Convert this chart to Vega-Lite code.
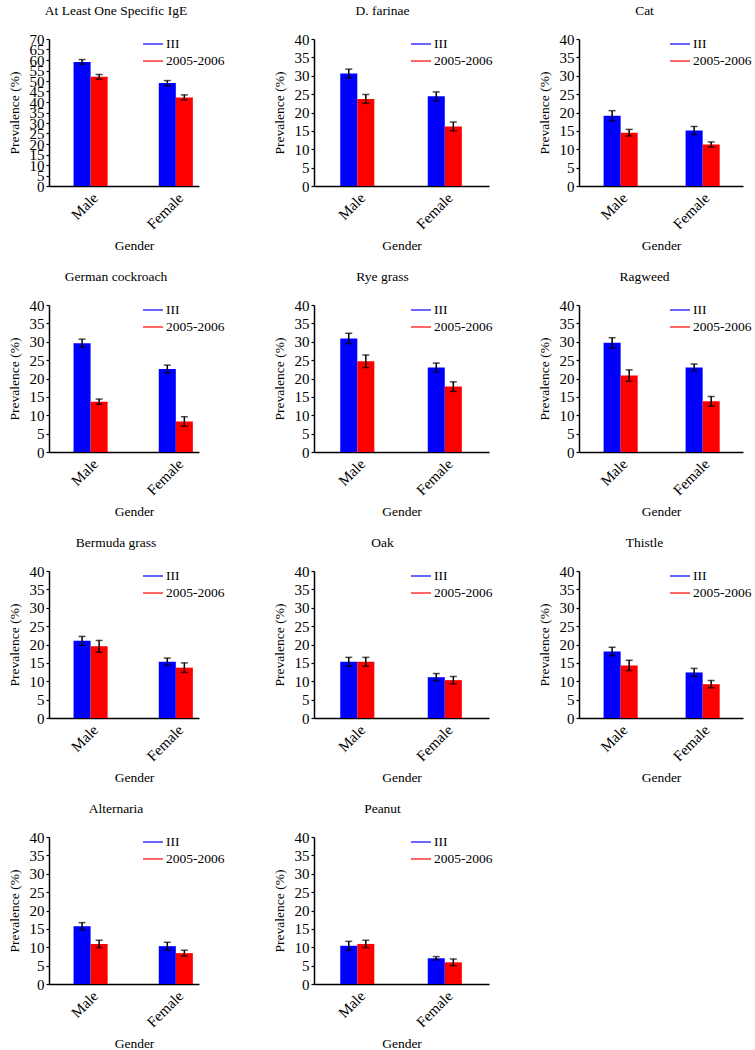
{
  "$schema": "https://vega.github.io/schema/vega-lite/v6.json",
  "background": "white",
  "padding": {"left": 7, "top": 3, "right": 0, "bottom": 0},
  "data": {"values": [
    {"panel": "At Least One Specific IgE", "gender": "Male", "series": "III", "value": 59.1, "lo": 58.0, "hi": 60.2},
    {"panel": "At Least One Specific IgE", "gender": "Male", "series": "2005-2006", "value": 52.0, "lo": 50.9, "hi": 53.1},
    {"panel": "At Least One Specific IgE", "gender": "Female", "series": "III", "value": 49.0, "lo": 47.8, "hi": 50.2},
    {"panel": "At Least One Specific IgE", "gender": "Female", "series": "2005-2006", "value": 42.2, "lo": 41.0, "hi": 43.4},
    {"panel": "D. farinae", "gender": "Male", "series": "III", "value": 30.6, "lo": 29.4, "hi": 31.8},
    {"panel": "D. farinae", "gender": "Male", "series": "2005-2006", "value": 23.7, "lo": 22.5, "hi": 24.9},
    {"panel": "D. farinae", "gender": "Female", "series": "III", "value": 24.4, "lo": 23.2, "hi": 25.6},
    {"panel": "D. farinae", "gender": "Female", "series": "2005-2006", "value": 16.2, "lo": 15.0, "hi": 17.4},
    {"panel": "Cat", "gender": "Male", "series": "III", "value": 19.1, "lo": 17.7, "hi": 20.5},
    {"panel": "Cat", "gender": "Male", "series": "2005-2006", "value": 14.5, "lo": 13.6, "hi": 15.4},
    {"panel": "Cat", "gender": "Female", "series": "III", "value": 15.1, "lo": 14.0, "hi": 16.2},
    {"panel": "Cat", "gender": "Female", "series": "2005-2006", "value": 11.3, "lo": 10.6, "hi": 12.0},
    {"panel": "German cockroach", "gender": "Male", "series": "III", "value": 29.6, "lo": 28.5, "hi": 30.7},
    {"panel": "German cockroach", "gender": "Male", "series": "2005-2006", "value": 13.7, "lo": 13.0, "hi": 14.4},
    {"panel": "German cockroach", "gender": "Female", "series": "III", "value": 22.6, "lo": 21.55, "hi": 23.65},
    {"panel": "German cockroach", "gender": "Female", "series": "2005-2006", "value": 8.3, "lo": 7.0, "hi": 9.6},
    {"panel": "Rye grass", "gender": "Male", "series": "III", "value": 30.9, "lo": 29.5, "hi": 32.3},
    {"panel": "Rye grass", "gender": "Male", "series": "2005-2006", "value": 24.7, "lo": 23.0, "hi": 26.4},
    {"panel": "Rye grass", "gender": "Female", "series": "III", "value": 23.0, "lo": 21.8, "hi": 24.2},
    {"panel": "Rye grass", "gender": "Female", "series": "2005-2006", "value": 17.8, "lo": 16.5, "hi": 19.1},
    {"panel": "Ragweed", "gender": "Male", "series": "III", "value": 29.7, "lo": 28.3, "hi": 31.1},
    {"panel": "Ragweed", "gender": "Male", "series": "2005-2006", "value": 20.8, "lo": 19.25, "hi": 22.35},
    {"panel": "Ragweed", "gender": "Female", "series": "III", "value": 23.0, "lo": 22.05, "hi": 23.95},
    {"panel": "Ragweed", "gender": "Female", "series": "2005-2006", "value": 13.8, "lo": 12.5, "hi": 15.1},
    {"panel": "Bermuda grass", "gender": "Male", "series": "III", "value": 21.0, "lo": 19.8, "hi": 22.2},
    {"panel": "Bermuda grass", "gender": "Male", "series": "2005-2006", "value": 19.5, "lo": 17.9, "hi": 21.1},
    {"panel": "Bermuda grass", "gender": "Female", "series": "III", "value": 15.3, "lo": 14.3, "hi": 16.3},
    {"panel": "Bermuda grass", "gender": "Female", "series": "2005-2006", "value": 13.7, "lo": 12.4, "hi": 15.0},
    {"panel": "Oak", "gender": "Male", "series": "III", "value": 15.3, "lo": 14.1, "hi": 16.5},
    {"panel": "Oak", "gender": "Male", "series": "2005-2006", "value": 15.3, "lo": 14.1, "hi": 16.5},
    {"panel": "Oak", "gender": "Female", "series": "III", "value": 11.1, "lo": 10.1, "hi": 12.1},
    {"panel": "Oak", "gender": "Female", "series": "2005-2006", "value": 10.3, "lo": 9.3, "hi": 11.3},
    {"panel": "Thistle", "gender": "Male", "series": "III", "value": 18.1, "lo": 16.95, "hi": 19.25},
    {"panel": "Thistle", "gender": "Male", "series": "2005-2006", "value": 14.3, "lo": 12.9, "hi": 15.7},
    {"panel": "Thistle", "gender": "Female", "series": "III", "value": 12.4, "lo": 11.3, "hi": 13.5},
    {"panel": "Thistle", "gender": "Female", "series": "2005-2006", "value": 9.2, "lo": 8.2, "hi": 10.2},
    {"panel": "Alternaria", "gender": "Male", "series": "III", "value": 15.7, "lo": 14.7, "hi": 16.7},
    {"panel": "Alternaria", "gender": "Male", "series": "2005-2006", "value": 10.9, "lo": 9.9, "hi": 11.9},
    {"panel": "Alternaria", "gender": "Female", "series": "III", "value": 10.3, "lo": 9.25, "hi": 11.35},
    {"panel": "Alternaria", "gender": "Female", "series": "2005-2006", "value": 8.4, "lo": 7.6, "hi": 9.2},
    {"panel": "Peanut", "gender": "Male", "series": "III", "value": 10.4, "lo": 9.2, "hi": 11.6},
    {"panel": "Peanut", "gender": "Male", "series": "2005-2006", "value": 10.9, "lo": 9.9, "hi": 11.9},
    {"panel": "Peanut", "gender": "Female", "series": "III", "value": 7.0, "lo": 6.55, "hi": 7.45},
    {"panel": "Peanut", "gender": "Female", "series": "2005-2006", "value": 5.9, "lo": 5.0, "hi": 6.8}
  ]},
  "columns": 3,
  "align": "all",
  "spacing": {"row": 119, "column": 90},
  "bounds": "flush",
  "resolve": {"scale": {"fill": "independent"}},
  "concat": [
    {
      "title": "At Least One Specific IgE", "width": 150, "height": 147,
      "transform": [{"filter": "datum.panel === 'At Least One Specific IgE'"}],
      "encoding": {
        "x": {"field": "gender", "type": "nominal", "sort": ["Male", "Female"], "title": "Gender", "axis": {"titleX": 85}, "scale": {"paddingInner": 0.6, "paddingOuter": 0.18, "align": 0.8}},
        "xOffset": {"field": "series", "type": "nominal", "sort": ["III", "2005-2006"], "scale": {"paddingInner": 0, "paddingOuter": 0}}
      },
      "layer": [
        {"mark": "bar", "encoding": {
          "y": {"field": "value", "type": "quantitative", "title": "Prevalence (%)", "scale": {"domain": [0, 70]}, "axis": {"values": [0, 5, 10, 15, 20, 25, 30, 35, 40, 45, 50, 55, 60, 65, 70], "labelOverlap": false}},
          "fill": {"field": "series", "type": "nominal", "sort": ["III", "2005-2006"], "scale": {"domain": ["III", "2005-2006"], "range": ["#0000ff", "#ff0000"]}, "legend": {"title": null, "legendX": 94, "legendY": -5}}
        }},
        {"mark": {"type": "rule", "color": "black", "strokeWidth": 1.5}, "encoding": {"y": {"field": "lo", "type": "quantitative", "title": "Prevalence (%)", "scale": {"domain": [0, 70]}, "axis": {"values": [0, 5, 10, 15, 20, 25, 30, 35, 40, 45, 50, 55, 60, 65, 70], "labelOverlap": false}}, "y2": {"field": "hi"}}},
        {"mark": {"type": "tick", "color": "black", "size": 7, "thickness": 1.5, "orient": "horizontal"}, "encoding": {"y": {"field": "lo", "type": "quantitative", "title": "Prevalence (%)", "scale": {"domain": [0, 70]}, "axis": {"values": [0, 5, 10, 15, 20, 25, 30, 35, 40, 45, 50, 55, 60, 65, 70], "labelOverlap": false}}}},
        {"mark": {"type": "tick", "color": "black", "size": 7, "thickness": 1.5, "orient": "horizontal"}, "encoding": {"y": {"field": "hi", "type": "quantitative", "title": "Prevalence (%)", "scale": {"domain": [0, 70]}, "axis": {"values": [0, 5, 10, 15, 20, 25, 30, 35, 40, 45, 50, 55, 60, 65, 70], "labelOverlap": false}}}}
      ]
    },
    {
      "title": "D. farinae", "width": 175, "height": 147,
      "transform": [{"filter": "datum.panel === 'D. farinae'"}],
      "encoding": {
        "x": {"field": "gender", "type": "nominal", "sort": ["Male", "Female"], "title": "Gender", "scale": {"paddingInner": 0.6, "paddingOuter": 0.3}},
        "xOffset": {"field": "series", "type": "nominal", "sort": ["III", "2005-2006"], "scale": {"paddingInner": 0, "paddingOuter": 0}}
      },
      "layer": [
        {"mark": "bar", "encoding": {
          "y": {"field": "value", "type": "quantitative", "title": "Prevalence (%)", "scale": {"domain": [0, 40]}, "axis": {"values": [0, 5, 10, 15, 20, 25, 30, 35, 40], "labelOverlap": false}},
          "fill": {"field": "series", "type": "nominal", "sort": ["III", "2005-2006"], "scale": {"domain": ["III", "2005-2006"], "range": ["#0000ff", "#ff0000"]}, "legend": {"title": null, "legendX": 97, "legendY": -5}}
        }},
        {"mark": {"type": "rule", "color": "black", "strokeWidth": 1.5}, "encoding": {"y": {"field": "lo", "type": "quantitative", "title": "Prevalence (%)", "scale": {"domain": [0, 40]}, "axis": {"values": [0, 5, 10, 15, 20, 25, 30, 35, 40], "labelOverlap": false}}, "y2": {"field": "hi"}}},
        {"mark": {"type": "tick", "color": "black", "size": 7, "thickness": 1.5, "orient": "horizontal"}, "encoding": {"y": {"field": "lo", "type": "quantitative", "title": "Prevalence (%)", "scale": {"domain": [0, 40]}, "axis": {"values": [0, 5, 10, 15, 20, 25, 30, 35, 40], "labelOverlap": false}}}},
        {"mark": {"type": "tick", "color": "black", "size": 7, "thickness": 1.5, "orient": "horizontal"}, "encoding": {"y": {"field": "hi", "type": "quantitative", "title": "Prevalence (%)", "scale": {"domain": [0, 40]}, "axis": {"values": [0, 5, 10, 15, 20, 25, 30, 35, 40], "labelOverlap": false}}}}
      ]
    },
    {
      "title": "Cat", "width": 164, "height": 147,
      "transform": [{"filter": "datum.panel === 'Cat'"}],
      "encoding": {
        "x": {"field": "gender", "type": "nominal", "sort": ["Male", "Female"], "title": "Gender", "scale": {"paddingInner": 0.6, "paddingOuter": 0.3}},
        "xOffset": {"field": "series", "type": "nominal", "sort": ["III", "2005-2006"], "scale": {"paddingInner": 0, "paddingOuter": 0}}
      },
      "layer": [
        {"mark": "bar", "encoding": {
          "y": {"field": "value", "type": "quantitative", "title": "Prevalence (%)", "scale": {"domain": [0, 40]}, "axis": {"values": [0, 5, 10, 15, 20, 25, 30, 35, 40], "labelOverlap": false}},
          "fill": {"field": "series", "type": "nominal", "sort": ["III", "2005-2006"], "scale": {"domain": ["III", "2005-2006"], "range": ["#0000ff", "#ff0000"]}, "legend": {"title": null, "legendX": 91, "legendY": -5}}
        }},
        {"mark": {"type": "rule", "color": "black", "strokeWidth": 1.5}, "encoding": {"y": {"field": "lo", "type": "quantitative", "title": "Prevalence (%)", "scale": {"domain": [0, 40]}, "axis": {"values": [0, 5, 10, 15, 20, 25, 30, 35, 40], "labelOverlap": false}}, "y2": {"field": "hi"}}},
        {"mark": {"type": "tick", "color": "black", "size": 7, "thickness": 1.5, "orient": "horizontal"}, "encoding": {"y": {"field": "lo", "type": "quantitative", "title": "Prevalence (%)", "scale": {"domain": [0, 40]}, "axis": {"values": [0, 5, 10, 15, 20, 25, 30, 35, 40], "labelOverlap": false}}}},
        {"mark": {"type": "tick", "color": "black", "size": 7, "thickness": 1.5, "orient": "horizontal"}, "encoding": {"y": {"field": "hi", "type": "quantitative", "title": "Prevalence (%)", "scale": {"domain": [0, 40]}, "axis": {"values": [0, 5, 10, 15, 20, 25, 30, 35, 40], "labelOverlap": false}}}}
      ]
    },
    {
      "title": "German cockroach", "width": 150, "height": 147,
      "transform": [{"filter": "datum.panel === 'German cockroach'"}],
      "encoding": {
        "x": {"field": "gender", "type": "nominal", "sort": ["Male", "Female"], "title": "Gender", "axis": {"titleX": 85}, "scale": {"paddingInner": 0.6, "paddingOuter": 0.18, "align": 0.8}},
        "xOffset": {"field": "series", "type": "nominal", "sort": ["III", "2005-2006"], "scale": {"paddingInner": 0, "paddingOuter": 0}}
      },
      "layer": [
        {"mark": "bar", "encoding": {
          "y": {"field": "value", "type": "quantitative", "title": "Prevalence (%)", "scale": {"domain": [0, 40]}, "axis": {"values": [0, 5, 10, 15, 20, 25, 30, 35, 40], "labelOverlap": false}},
          "fill": {"field": "series", "type": "nominal", "sort": ["III", "2005-2006"], "scale": {"domain": ["III", "2005-2006"], "range": ["#0000ff", "#ff0000"]}, "legend": {"title": null, "legendX": 94, "legendY": -5}}
        }},
        {"mark": {"type": "rule", "color": "black", "strokeWidth": 1.5}, "encoding": {"y": {"field": "lo", "type": "quantitative", "title": "Prevalence (%)", "scale": {"domain": [0, 40]}, "axis": {"values": [0, 5, 10, 15, 20, 25, 30, 35, 40], "labelOverlap": false}}, "y2": {"field": "hi"}}},
        {"mark": {"type": "tick", "color": "black", "size": 7, "thickness": 1.5, "orient": "horizontal"}, "encoding": {"y": {"field": "lo", "type": "quantitative", "title": "Prevalence (%)", "scale": {"domain": [0, 40]}, "axis": {"values": [0, 5, 10, 15, 20, 25, 30, 35, 40], "labelOverlap": false}}}},
        {"mark": {"type": "tick", "color": "black", "size": 7, "thickness": 1.5, "orient": "horizontal"}, "encoding": {"y": {"field": "hi", "type": "quantitative", "title": "Prevalence (%)", "scale": {"domain": [0, 40]}, "axis": {"values": [0, 5, 10, 15, 20, 25, 30, 35, 40], "labelOverlap": false}}}}
      ]
    },
    {
      "title": "Rye grass", "width": 175, "height": 147,
      "transform": [{"filter": "datum.panel === 'Rye grass'"}],
      "encoding": {
        "x": {"field": "gender", "type": "nominal", "sort": ["Male", "Female"], "title": "Gender", "scale": {"paddingInner": 0.6, "paddingOuter": 0.3}},
        "xOffset": {"field": "series", "type": "nominal", "sort": ["III", "2005-2006"], "scale": {"paddingInner": 0, "paddingOuter": 0}}
      },
      "layer": [
        {"mark": "bar", "encoding": {
          "y": {"field": "value", "type": "quantitative", "title": "Prevalence (%)", "scale": {"domain": [0, 40]}, "axis": {"values": [0, 5, 10, 15, 20, 25, 30, 35, 40], "labelOverlap": false}},
          "fill": {"field": "series", "type": "nominal", "sort": ["III", "2005-2006"], "scale": {"domain": ["III", "2005-2006"], "range": ["#0000ff", "#ff0000"]}, "legend": {"title": null, "legendX": 97, "legendY": -5}}
        }},
        {"mark": {"type": "rule", "color": "black", "strokeWidth": 1.5}, "encoding": {"y": {"field": "lo", "type": "quantitative", "title": "Prevalence (%)", "scale": {"domain": [0, 40]}, "axis": {"values": [0, 5, 10, 15, 20, 25, 30, 35, 40], "labelOverlap": false}}, "y2": {"field": "hi"}}},
        {"mark": {"type": "tick", "color": "black", "size": 7, "thickness": 1.5, "orient": "horizontal"}, "encoding": {"y": {"field": "lo", "type": "quantitative", "title": "Prevalence (%)", "scale": {"domain": [0, 40]}, "axis": {"values": [0, 5, 10, 15, 20, 25, 30, 35, 40], "labelOverlap": false}}}},
        {"mark": {"type": "tick", "color": "black", "size": 7, "thickness": 1.5, "orient": "horizontal"}, "encoding": {"y": {"field": "hi", "type": "quantitative", "title": "Prevalence (%)", "scale": {"domain": [0, 40]}, "axis": {"values": [0, 5, 10, 15, 20, 25, 30, 35, 40], "labelOverlap": false}}}}
      ]
    },
    {
      "title": "Ragweed", "width": 164, "height": 147,
      "transform": [{"filter": "datum.panel === 'Ragweed'"}],
      "encoding": {
        "x": {"field": "gender", "type": "nominal", "sort": ["Male", "Female"], "title": "Gender", "scale": {"paddingInner": 0.6, "paddingOuter": 0.3}},
        "xOffset": {"field": "series", "type": "nominal", "sort": ["III", "2005-2006"], "scale": {"paddingInner": 0, "paddingOuter": 0}}
      },
      "layer": [
        {"mark": "bar", "encoding": {
          "y": {"field": "value", "type": "quantitative", "title": "Prevalence (%)", "scale": {"domain": [0, 40]}, "axis": {"values": [0, 5, 10, 15, 20, 25, 30, 35, 40], "labelOverlap": false}},
          "fill": {"field": "series", "type": "nominal", "sort": ["III", "2005-2006"], "scale": {"domain": ["III", "2005-2006"], "range": ["#0000ff", "#ff0000"]}, "legend": {"title": null, "legendX": 91, "legendY": -5}}
        }},
        {"mark": {"type": "rule", "color": "black", "strokeWidth": 1.5}, "encoding": {"y": {"field": "lo", "type": "quantitative", "title": "Prevalence (%)", "scale": {"domain": [0, 40]}, "axis": {"values": [0, 5, 10, 15, 20, 25, 30, 35, 40], "labelOverlap": false}}, "y2": {"field": "hi"}}},
        {"mark": {"type": "tick", "color": "black", "size": 7, "thickness": 1.5, "orient": "horizontal"}, "encoding": {"y": {"field": "lo", "type": "quantitative", "title": "Prevalence (%)", "scale": {"domain": [0, 40]}, "axis": {"values": [0, 5, 10, 15, 20, 25, 30, 35, 40], "labelOverlap": false}}}},
        {"mark": {"type": "tick", "color": "black", "size": 7, "thickness": 1.5, "orient": "horizontal"}, "encoding": {"y": {"field": "hi", "type": "quantitative", "title": "Prevalence (%)", "scale": {"domain": [0, 40]}, "axis": {"values": [0, 5, 10, 15, 20, 25, 30, 35, 40], "labelOverlap": false}}}}
      ]
    },
    {
      "title": "Bermuda grass", "width": 150, "height": 147,
      "transform": [{"filter": "datum.panel === 'Bermuda grass'"}],
      "encoding": {
        "x": {"field": "gender", "type": "nominal", "sort": ["Male", "Female"], "title": "Gender", "axis": {"titleX": 85}, "scale": {"paddingInner": 0.6, "paddingOuter": 0.18, "align": 0.8}},
        "xOffset": {"field": "series", "type": "nominal", "sort": ["III", "2005-2006"], "scale": {"paddingInner": 0, "paddingOuter": 0}}
      },
      "layer": [
        {"mark": "bar", "encoding": {
          "y": {"field": "value", "type": "quantitative", "title": "Prevalence (%)", "scale": {"domain": [0, 40]}, "axis": {"values": [0, 5, 10, 15, 20, 25, 30, 35, 40], "labelOverlap": false}},
          "fill": {"field": "series", "type": "nominal", "sort": ["III", "2005-2006"], "scale": {"domain": ["III", "2005-2006"], "range": ["#0000ff", "#ff0000"]}, "legend": {"title": null, "legendX": 94, "legendY": -5}}
        }},
        {"mark": {"type": "rule", "color": "black", "strokeWidth": 1.5}, "encoding": {"y": {"field": "lo", "type": "quantitative", "title": "Prevalence (%)", "scale": {"domain": [0, 40]}, "axis": {"values": [0, 5, 10, 15, 20, 25, 30, 35, 40], "labelOverlap": false}}, "y2": {"field": "hi"}}},
        {"mark": {"type": "tick", "color": "black", "size": 7, "thickness": 1.5, "orient": "horizontal"}, "encoding": {"y": {"field": "lo", "type": "quantitative", "title": "Prevalence (%)", "scale": {"domain": [0, 40]}, "axis": {"values": [0, 5, 10, 15, 20, 25, 30, 35, 40], "labelOverlap": false}}}},
        {"mark": {"type": "tick", "color": "black", "size": 7, "thickness": 1.5, "orient": "horizontal"}, "encoding": {"y": {"field": "hi", "type": "quantitative", "title": "Prevalence (%)", "scale": {"domain": [0, 40]}, "axis": {"values": [0, 5, 10, 15, 20, 25, 30, 35, 40], "labelOverlap": false}}}}
      ]
    },
    {
      "title": "Oak", "width": 175, "height": 147,
      "transform": [{"filter": "datum.panel === 'Oak'"}],
      "encoding": {
        "x": {"field": "gender", "type": "nominal", "sort": ["Male", "Female"], "title": "Gender", "scale": {"paddingInner": 0.6, "paddingOuter": 0.3}},
        "xOffset": {"field": "series", "type": "nominal", "sort": ["III", "2005-2006"], "scale": {"paddingInner": 0, "paddingOuter": 0}}
      },
      "layer": [
        {"mark": "bar", "encoding": {
          "y": {"field": "value", "type": "quantitative", "title": "Prevalence (%)", "scale": {"domain": [0, 40]}, "axis": {"values": [0, 5, 10, 15, 20, 25, 30, 35, 40], "labelOverlap": false}},
          "fill": {"field": "series", "type": "nominal", "sort": ["III", "2005-2006"], "scale": {"domain": ["III", "2005-2006"], "range": ["#0000ff", "#ff0000"]}, "legend": {"title": null, "legendX": 97, "legendY": -5}}
        }},
        {"mark": {"type": "rule", "color": "black", "strokeWidth": 1.5}, "encoding": {"y": {"field": "lo", "type": "quantitative", "title": "Prevalence (%)", "scale": {"domain": [0, 40]}, "axis": {"values": [0, 5, 10, 15, 20, 25, 30, 35, 40], "labelOverlap": false}}, "y2": {"field": "hi"}}},
        {"mark": {"type": "tick", "color": "black", "size": 7, "thickness": 1.5, "orient": "horizontal"}, "encoding": {"y": {"field": "lo", "type": "quantitative", "title": "Prevalence (%)", "scale": {"domain": [0, 40]}, "axis": {"values": [0, 5, 10, 15, 20, 25, 30, 35, 40], "labelOverlap": false}}}},
        {"mark": {"type": "tick", "color": "black", "size": 7, "thickness": 1.5, "orient": "horizontal"}, "encoding": {"y": {"field": "hi", "type": "quantitative", "title": "Prevalence (%)", "scale": {"domain": [0, 40]}, "axis": {"values": [0, 5, 10, 15, 20, 25, 30, 35, 40], "labelOverlap": false}}}}
      ]
    },
    {
      "title": "Thistle", "width": 164, "height": 147,
      "transform": [{"filter": "datum.panel === 'Thistle'"}],
      "encoding": {
        "x": {"field": "gender", "type": "nominal", "sort": ["Male", "Female"], "title": "Gender", "scale": {"paddingInner": 0.6, "paddingOuter": 0.3}},
        "xOffset": {"field": "series", "type": "nominal", "sort": ["III", "2005-2006"], "scale": {"paddingInner": 0, "paddingOuter": 0}}
      },
      "layer": [
        {"mark": "bar", "encoding": {
          "y": {"field": "value", "type": "quantitative", "title": "Prevalence (%)", "scale": {"domain": [0, 40]}, "axis": {"values": [0, 5, 10, 15, 20, 25, 30, 35, 40], "labelOverlap": false}},
          "fill": {"field": "series", "type": "nominal", "sort": ["III", "2005-2006"], "scale": {"domain": ["III", "2005-2006"], "range": ["#0000ff", "#ff0000"]}, "legend": {"title": null, "legendX": 91, "legendY": -5}}
        }},
        {"mark": {"type": "rule", "color": "black", "strokeWidth": 1.5}, "encoding": {"y": {"field": "lo", "type": "quantitative", "title": "Prevalence (%)", "scale": {"domain": [0, 40]}, "axis": {"values": [0, 5, 10, 15, 20, 25, 30, 35, 40], "labelOverlap": false}}, "y2": {"field": "hi"}}},
        {"mark": {"type": "tick", "color": "black", "size": 7, "thickness": 1.5, "orient": "horizontal"}, "encoding": {"y": {"field": "lo", "type": "quantitative", "title": "Prevalence (%)", "scale": {"domain": [0, 40]}, "axis": {"values": [0, 5, 10, 15, 20, 25, 30, 35, 40], "labelOverlap": false}}}},
        {"mark": {"type": "tick", "color": "black", "size": 7, "thickness": 1.5, "orient": "horizontal"}, "encoding": {"y": {"field": "hi", "type": "quantitative", "title": "Prevalence (%)", "scale": {"domain": [0, 40]}, "axis": {"values": [0, 5, 10, 15, 20, 25, 30, 35, 40], "labelOverlap": false}}}}
      ]
    },
    {
      "title": "Alternaria", "width": 150, "height": 147,
      "transform": [{"filter": "datum.panel === 'Alternaria'"}],
      "encoding": {
        "x": {"field": "gender", "type": "nominal", "sort": ["Male", "Female"], "title": "Gender", "axis": {"titleX": 85}, "scale": {"paddingInner": 0.6, "paddingOuter": 0.18, "align": 0.8}},
        "xOffset": {"field": "series", "type": "nominal", "sort": ["III", "2005-2006"], "scale": {"paddingInner": 0, "paddingOuter": 0}}
      },
      "layer": [
        {"mark": "bar", "encoding": {
          "y": {"field": "value", "type": "quantitative", "title": "Prevalence (%)", "scale": {"domain": [0, 40]}, "axis": {"values": [0, 5, 10, 15, 20, 25, 30, 35, 40], "labelOverlap": false}},
          "fill": {"field": "series", "type": "nominal", "sort": ["III", "2005-2006"], "scale": {"domain": ["III", "2005-2006"], "range": ["#0000ff", "#ff0000"]}, "legend": {"title": null, "legendX": 94, "legendY": -5}}
        }},
        {"mark": {"type": "rule", "color": "black", "strokeWidth": 1.5}, "encoding": {"y": {"field": "lo", "type": "quantitative", "title": "Prevalence (%)", "scale": {"domain": [0, 40]}, "axis": {"values": [0, 5, 10, 15, 20, 25, 30, 35, 40], "labelOverlap": false}}, "y2": {"field": "hi"}}},
        {"mark": {"type": "tick", "color": "black", "size": 7, "thickness": 1.5, "orient": "horizontal"}, "encoding": {"y": {"field": "lo", "type": "quantitative", "title": "Prevalence (%)", "scale": {"domain": [0, 40]}, "axis": {"values": [0, 5, 10, 15, 20, 25, 30, 35, 40], "labelOverlap": false}}}},
        {"mark": {"type": "tick", "color": "black", "size": 7, "thickness": 1.5, "orient": "horizontal"}, "encoding": {"y": {"field": "hi", "type": "quantitative", "title": "Prevalence (%)", "scale": {"domain": [0, 40]}, "axis": {"values": [0, 5, 10, 15, 20, 25, 30, 35, 40], "labelOverlap": false}}}}
      ]
    },
    {
      "title": "Peanut", "width": 175, "height": 147,
      "transform": [{"filter": "datum.panel === 'Peanut'"}],
      "encoding": {
        "x": {"field": "gender", "type": "nominal", "sort": ["Male", "Female"], "title": "Gender", "scale": {"paddingInner": 0.6, "paddingOuter": 0.3}},
        "xOffset": {"field": "series", "type": "nominal", "sort": ["III", "2005-2006"], "scale": {"paddingInner": 0, "paddingOuter": 0}}
      },
      "layer": [
        {"mark": "bar", "encoding": {
          "y": {"field": "value", "type": "quantitative", "title": "Prevalence (%)", "scale": {"domain": [0, 40]}, "axis": {"values": [0, 5, 10, 15, 20, 25, 30, 35, 40], "labelOverlap": false}},
          "fill": {"field": "series", "type": "nominal", "sort": ["III", "2005-2006"], "scale": {"domain": ["III", "2005-2006"], "range": ["#0000ff", "#ff0000"]}, "legend": {"title": null, "legendX": 97, "legendY": -5}}
        }},
        {"mark": {"type": "rule", "color": "black", "strokeWidth": 1.5}, "encoding": {"y": {"field": "lo", "type": "quantitative", "title": "Prevalence (%)", "scale": {"domain": [0, 40]}, "axis": {"values": [0, 5, 10, 15, 20, 25, 30, 35, 40], "labelOverlap": false}}, "y2": {"field": "hi"}}},
        {"mark": {"type": "tick", "color": "black", "size": 7, "thickness": 1.5, "orient": "horizontal"}, "encoding": {"y": {"field": "lo", "type": "quantitative", "title": "Prevalence (%)", "scale": {"domain": [0, 40]}, "axis": {"values": [0, 5, 10, 15, 20, 25, 30, 35, 40], "labelOverlap": false}}}},
        {"mark": {"type": "tick", "color": "black", "size": 7, "thickness": 1.5, "orient": "horizontal"}, "encoding": {"y": {"field": "hi", "type": "quantitative", "title": "Prevalence (%)", "scale": {"domain": [0, 40]}, "axis": {"values": [0, 5, 10, 15, 20, 25, 30, 35, 40], "labelOverlap": false}}}}
      ]
    }
  ],
  "config": {
    "view": {"stroke": null},
    "font": "Liberation Serif",
    "style": {"guide-label": {"font": "Liberation Serif"}, "guide-title": {"font": "Liberation Serif"}, "group-title": {"font": "Liberation Serif"}},
    "title": {"font": "Liberation Serif", "fontSize": 13.5, "fontWeight": "normal", "color": "black", "anchor": "middle", "frame": "bounds", "offset": 15},
    "axis": {"grid": false, "domainColor": "black", "domainWidth": 1.5, "tickColor": "black", "tickWidth": 1.2, "labelColor": "black", "titleColor": "black", "labelFont": "Liberation Serif", "titleFont": "Liberation Serif", "labelFontSize": 15, "titleFontSize": 13.5, "titleFontWeight": "normal", "labelOverlap": false},
    "axisX": {"ticks": false, "labelAngle": -45, "labelPadding": 4, "titlePadding": 7, "labelFont": "Liberation Serif", "titleFont": "Liberation Serif"},
    "axisY": {"tickSize": 3, "labelPadding": 2, "titlePadding": 8, "labelFont": "Liberation Serif", "titleFont": "Liberation Serif"},
    "legend": {"orient": "none", "symbolType": "M-1,-0.06H1V0.06H-1Z", "symbolSize": 400, "symbolStrokeWidth": 0, "labelFont": "Liberation Serif", "labelFontSize": 13.5, "labelColor": "black", "rowPadding": -3, "labelOffset": 3}
  }
}
